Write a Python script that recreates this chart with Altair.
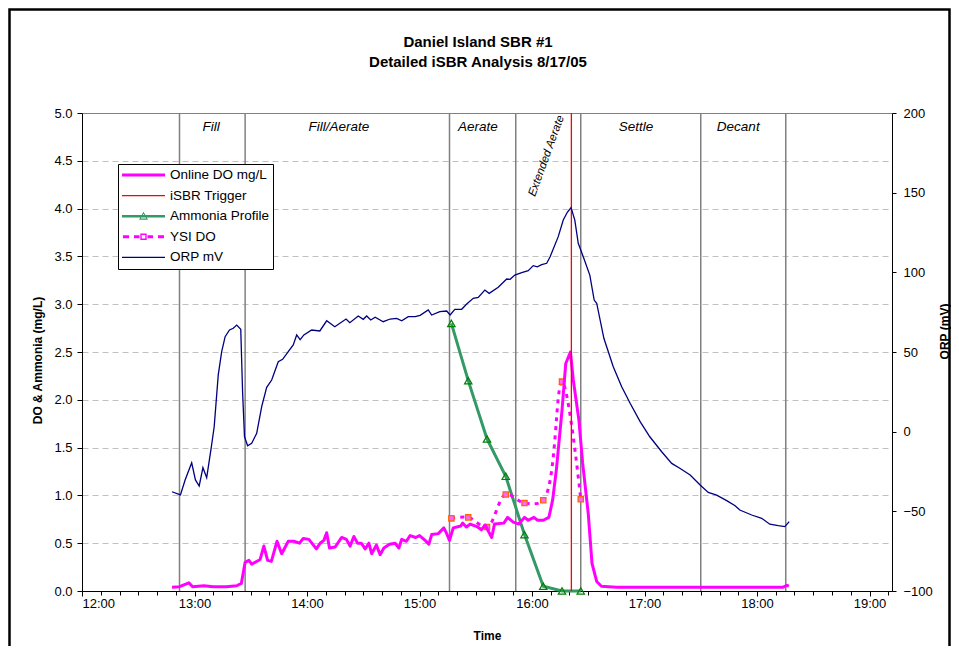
import altair as alt
import pandas as pd

# ---------------- data ----------------
DO_TIMES = ["12:48", "12:52", "12:57", "12:59", "13:05", "13:10", "13:17", "13:22:30", "13:25", "13:27",
            "13:29", "13:30:30", "13:35", "13:37", "13:39", "13:41", "13:44", "13:46:30", "13:50", "13:53",
            "13:56", "13:58", "14:01", "14:05", "14:07", "14:09", "14:10:30", "14:12", "14:15", "14:18:30",
            "14:21", "14:23", "14:25", "14:27", "14:29", "14:31", "14:33", "14:34:30", "14:37", "14:39",
            "14:41", "14:44", "14:47", "14:49", "14:50:30", "14:53", "14:55", "14:58", "15:00", "15:03",
            "15:05", "15:06:30", "15:10", "15:13", "15:14:30", "15:16", "15:18", "15:22", "15:23", "15:25",
            "15:27", "15:31", "15:33", "15:35", "15:38:30", "15:40", "15:45", "15:47", "15:50", "15:53",
            "15:56", "15:58", "16:01", "16:03", "16:06", "16:09", "16:11", "16:13", "16:16", "16:18",
            "16:20:30", "16:22", "16:25", "16:27", "16:30", "16:32", "16:34:30", "16:37", "16:45", "17:21",
            "18:14", "18:16", "18:17"]
DO_VALUES = [0.04, 0.045, 0.085, 0.045, 0.055, 0.045, 0.045, 0.055, 0.08, 0.30,
             0.32, 0.28, 0.33, 0.47, 0.32, 0.31, 0.52, 0.39, 0.52, 0.52,
             0.50, 0.55, 0.54, 0.44, 0.50, 0.53, 0.61, 0.45, 0.46, 0.56,
             0.54, 0.47, 0.57, 0.50, 0.50, 0.44, 0.50, 0.39, 0.48, 0.38,
             0.45, 0.49, 0.50, 0.45, 0.54, 0.52, 0.58, 0.56, 0.58, 0.53,
             0.49, 0.59, 0.60, 0.66, 0.60, 0.53, 0.66, 0.68, 0.71, 0.67,
             0.70, 0.67, 0.64, 0.69, 0.56, 0.70, 0.71, 0.77, 0.72, 0.70,
             0.77, 0.74, 0.77, 0.74, 0.74, 0.77, 0.95, 1.27, 1.89, 2.38,
             2.50, 2.21, 1.79, 1.34, 0.81, 0.29, 0.10, 0.05, 0.04, 0.04,
             0.04, 0.06, 0.05]

ORP_TIMES = ["12:48", "12:52:30", "12:55", "12:58:30", "13:00:30", "13:02:30", "13:04:30", "13:06:30", "13:09", "13:10:30",
             "13:12:40", "13:14:30", "13:16:20", "13:18:40", "13:20:40", "13:22:30", "13:24:40", "13:25:40", "13:26:40", "13:28:20",
             "13:30:30", "13:33:10", "13:35:50", "13:38:30", "13:41:10", "13:44:40", "13:47", "13:50", "13:52:40", "13:54:30",
             "13:56:20", "13:58:20", "14:02:30", "14:06:50", "14:10:30", "14:14:50", "14:20:50", "14:22:50", "14:27:20", "14:30",
             "14:31:50", "14:34", "14:36:20", "14:40:40", "14:44:20", "14:47:50", "14:50:30", "14:54", "14:57:40", "15:00:20",
             "15:04:40", "15:06:30", "15:10:50", "15:14:30", "15:16:20", "15:18:50", "15:22:30", "15:25:10", "15:28:40", "15:31:20",
             "15:34:50", "15:37:10", "15:42", "15:46:30", "15:48:20", "15:50:50", "15:54:30", "15:58", "16:00:40", "16:02:50",
             "16:05:10", "16:07:50", "16:09:40", "16:14", "16:16:40", "16:18:50", "16:20:50", "16:22:50", "16:24:40", "16:27:20",
             "16:30:50", "16:33:10", "16:34:30", "16:38:20", "16:43:20", "16:47:50", "16:52:20", "16:57:40", "17:02:50", "17:09:10",
             "17:14:30", "17:18:50", "17:24:20", "17:29:40", "17:34", "17:38:30", "17:43:50", "17:48:20", "17:50:50", "17:57:10",
             "18:02:30", "18:06:50", "18:11:20", "18:14:50", "18:17:10"]
ORP_VALUES = [-37.7, -39.7, -30.3, -19.5, -30.3, -34.1, -22.6, -28.9, -9.4, 3.1,
              35.6, 50.2, 59.6, 63.8, 64.9, 66.9, 64.2, 24.3, -3.2, -8.8,
              -7.3, -1.0, 15.7, 27.8, 32.4, 43.9, 45.4, 50.2, 54.4, 60.7,
              57.8, 60.7, 63.8, 63.2, 69.6, 65.9, 70.7, 68.4, 72.6, 70.5,
              72.6, 70.1, 71.8, 69.0, 70.7, 71.1, 69.6, 72.2, 72.2, 73.0,
              76.4, 73.2, 75.3, 75.7, 73.2, 76.8, 76.8, 80.1, 83.7, 84.3,
              88.9, 86.8, 90.6, 95.8, 95.6, 98.3, 99.8, 101.0, 104.2, 103.5,
              104.8, 105.7, 109.8, 122.4, 132.8, 137.7, 140.6, 132.8, 118.2, 109.8,
              98.3, 82.6, 80.6, 58.6, 40.8, 28.2, 17.8, 6.3, -3.2, -12.6,
              -19.9, -23.0, -27.2, -33.5, -38.1, -39.8, -43.3, -46.5, -49.2, -52.3,
              -54.4, -58.1, -59.0, -59.6, -56.5]

SAMPLE_TIMES = ["15:17", "15:26", "15:36", "15:46", "15:56", "16:06", "16:16", "16:26"]
AMMONIA_VALUES = [2.80, 2.20, 1.59, 1.20, 0.59, 0.05, 0.0, 0.0]
YSI_DO_VALUES = [0.76, 0.77, 0.67, 1.01, 0.92, 0.95, 2.19, 0.96]

PHASE_BOUNDARIES = ["12:52", "13:27", "15:16", "15:51:20", "16:26", "17:30", "18:15:20"]
TRIGGER_TIMES = ["16:21"]
PHASE_NAMES = ["Fill", "Fill/Aerate", "Aerate", "Settle", "Decant"]
PHASE_LABEL_TIMES = ["13:08:50", "14:17", "15:31:10", "16:55:30", "17:50"]
EXT_NAMES = ["Extended Aerate"]
EXT_TIMES = ["16:07:50"]

SERIES = ["Online DO mg/L", "iSBR Trigger", "Ammonia Profile", "YSI DO", "ORP mV"]

X_TICKS = list(range(12, 20))
MINOR_TICKS = [12 + k / 6 for k in range(1, 44) if k % 6 != 0]
DO_TICKS = [i * 0.5 for i in range(11)]
ORP_TICKS = [-100, -50, 0, 50, 100, 150, 200]

assert len(DO_TIMES) == len(DO_VALUES)
assert len(ORP_TIMES) == len(ORP_VALUES)


def to_hours(t):
    p = [int(s) for s in t.split(":")]
    return p[0] + p[1] / 60 + (p[2] if len(p) > 2 else 0) / 3600


do_df = pd.DataFrame({"h": [to_hours(t) for t in DO_TIMES], "v": DO_VALUES})
orp_df = pd.DataFrame({"h": [to_hours(t) for t in ORP_TIMES], "orp": ORP_VALUES})
samp_df = pd.DataFrame({"h": [to_hours(t) for t in SAMPLE_TIMES],
                        "nh3": AMMONIA_VALUES, "ysi": YSI_DO_VALUES})
phase_df = pd.DataFrame({"h": [to_hours(t) for t in PHASE_BOUNDARIES]})
trig_df = pd.DataFrame({"h": [to_hours(t) for t in TRIGGER_TIMES]})
label_df = pd.DataFrame({"h": [to_hours(t) for t in PHASE_LABEL_TIMES], "name": PHASE_NAMES})
ext_df = pd.DataFrame({"h": [to_hours(t) for t in EXT_TIMES], "name": EXT_NAMES})
minor_df = pd.DataFrame({"h": MINOR_TICKS})
legend_df = pd.DataFrame({"series": SERIES, "h": [12.0] * 5, "v": [0.0] * 5})
frame_df = pd.DataFrame({"k": [0]})

# ---------------- styling ----------------
FONT = "Liberation Sans"
X_SCALE = alt.Scale(domain=[12, 19.2], nice=False, zero=False)
Y_DO = alt.Scale(domain=[0, 5], nice=False, zero=False)
Y_ORP = alt.Scale(domain=[-100, 200], nice=False, zero=False)

SERIES_COLORS = ["#FF00FF", "#FF0000", "#339966", "#FF00FF", "#000080"]

# legend symbols as filled paths (unit = half of the 43px symbol width)
U = 21.5


def _r(x0, x1, hh):
    return f"M{x0/U:.4f},{-hh/U:.4f}H{x1/U:.4f}V{hh/U:.4f}H{x0/U:.4f}Z"


def _tri_ring():
    o = f"M0,{-4.5/U:.4f}L{4.5/U:.4f},{3.5/U:.4f}L{-4.5/U:.4f},{3.5/U:.4f}Z"
    i = f"M0,{-2.4/U:.4f}L{-2.8/U:.4f},{2.4/U:.4f}L{2.8/U:.4f},{2.4/U:.4f}Z"
    return o + i


def _sq_ring(s, t):
    o = f"M{-s/U:.4f},{-s/U:.4f}H{s/U:.4f}V{s/U:.4f}H{-s/U:.4f}Z"
    i = f"M{-t/U:.4f},{-t/U:.4f}V{t/U:.4f}H{t/U:.4f}V{-t/U:.4f}Z"
    return o + i


LEGEND_SHAPES = [
    _r(-21.5, 21.5, 1.5),
    _r(-21.5, 21.5, 0.6),
    _r(-21.5, 21.5, 1.25) + _tri_ring(),
    _r(-20.5, -14.5, 1.5) + _r(-9.5, -4.0, 1.5) + _sq_ring(3.2, 1.8) + _r(4.0, 9.5, 1.5) + _r(14.5, 20.5, 1.5),
    _r(-21.5, 21.5, 0.65),
]

LEGEND = alt.Legend(title=None, orient="none", legendX=36, legendY=51,
                    fillColor="white", strokeColor="black", padding=3,
                    rowPadding=4.6, clipHeight=16, symbolOffset=1, labelOffset=5,
                    labelFont=FONT, labelFontSize=13.5, labelColor="black",
                    symbolSize=1849, symbolStrokeWidth=0, symbolOpacity=1)


def xenc(axis=None):
    return alt.X("h:Q", scale=X_SCALE, axis=axis)


def yenc(field, axis=None):
    return alt.Y(f"{field}:Q", scale=Y_DO, axis=axis)


X_AXIS = alt.Axis(orient="bottom", values=X_TICKS, labelExpr="datum.value + ':00'", tickSize=5,
                  labelPadding=1, grid=False, title="Time", titleY=44,
                  titleBaseline="middle", titleFontWeight="bold")
DO_AXIS = alt.Axis(orient="left", values=DO_TICKS, format=".1f", tickSize=5, labelPadding=5,
                   grid=True, gridColor="#C0C0C0", gridDash=[6, 4], gridWidth=1,
                   gridOpacity={"condition": {"test": "datum.value <= 0 || datum.value >= 5", "value": 0}, "value": 1},
                   title="DO & Ammonia (mg/L)", titleX=-45, titleY=247, titleAngle=270,
                   titleAlign="center", titleBaseline="middle", titleFontWeight="bold")
ORP_AXIS = alt.Axis(orient="right", values=ORP_TICKS, format="d", tickSize=4, labelPadding=7,
                    grid=False, title="ORP (mV)", titleX=52, titleY=218, titleAngle=270,
                    titleAlign="center", titleBaseline="middle", titleFontWeight="bold")
MINOR_AXIS = alt.Axis(orient="bottom", values=MINOR_TICKS, labels=False, ticks=True, tickSize=4,
                      domain=False, grid=False, title=None)

# ---------------- layers ----------------
phase_rules = alt.Chart(phase_df).mark_rule(color="#808080", strokeWidth=1.5).encode(x=xenc())

ammonia_line = alt.Chart(samp_df).mark_line(color="#339966", strokeWidth=3).encode(
    x=xenc(), y=yenc("nh3"))
ammonia_pts = alt.Chart(samp_df).mark_point(shape="triangle-up", size=55, color="#008000",
                                             filled=False, strokeWidth=1.2, opacity=1).encode(
    x=xenc(), y=yenc("nh3"))

ysi_line = alt.Chart(samp_df).mark_line(color="#FF00FF", strokeWidth=3, strokeDash=[4, 5],
                                        interpolate="catmull-rom").encode(x=xenc(), y=yenc("ysi"))
ysi_pts = alt.Chart(samp_df).mark_point(shape="square", size=28, filled=True, fill="#FF66FF",
                                        stroke="#FF6600", strokeWidth=1.3, opacity=1).encode(
    x=xenc(), y=yenc("ysi"))

do_line = alt.Chart(do_df).mark_line(color="#FF00FF", strokeWidth=3, strokeJoin="round").encode(
    x=xenc(X_AXIS), y=yenc("v", DO_AXIS))

trigger = alt.Chart(trig_df).mark_rule(color="#FF0000", strokeWidth=1.3).encode(x=xenc())

phase_text = alt.Chart(label_df).mark_text(font=FONT, fontStyle="italic", fontSize=13.5,
                                           color="black", baseline="middle", align="center").encode(
    x=xenc(), y=alt.YDatum(4.85, scale=Y_DO, axis=None), text="name:N")
ext_text = alt.Chart(ext_df).mark_text(font=FONT, fontStyle="italic", fontSize=11.5, angle=290,
                                       color="black", baseline="middle", align="center").encode(
    x=xenc(), y=alt.YDatum(4.55, scale=Y_DO, axis=None), text="name:N")

legend_layer = alt.Chart(legend_df).transform_filter("false").mark_point(
    filled=True, opacity=1, size=1849, strokeWidth=0).encode(
    x=xenc(), y=yenc("v"),
    color=alt.Color("series:N", scale=alt.Scale(domain=SERIES, range=SERIES_COLORS), legend=LEGEND),
    shape=alt.Shape("series:N", scale=alt.Scale(domain=SERIES, range=LEGEND_SHAPES), legend=LEGEND),
)

orp_line = alt.Chart(orp_df).mark_line(color="#000080", strokeWidth=1.3).encode(
    x=xenc(), y=alt.Y("orp:Q", scale=Y_ORP, axis=ORP_AXIS))

minor = alt.Chart(minor_df).mark_rule(opacity=0).encode(x=xenc(MINOR_AXIS))

frame = alt.Chart(frame_df).mark_rect(fillOpacity=0, stroke="black", strokeWidth=2.5).encode(
    x=alt.value(-72.5), x2=alt.value(867.5), y=alt.value(-103.5), y2=alt.value(700))

chart = alt.layer(
    phase_rules, ammonia_line, ammonia_pts, ysi_line, ysi_pts, do_line,
    trigger, orp_line, phase_text, ext_text, legend_layer, minor, frame,
).resolve_scale(y="independent").resolve_axis(x="independent").properties(
    width=810, height=478,
    autosize=alt.AutoSizeParams(type="none"),
    padding={"left": 74, "top": 105, "right": 59, "bottom": 55},
    title=alt.TitleParams(text=["Daniel Island SBR #1", "Detailed iSBR Analysis 8/17/05"],
                          font=FONT, fontSize=15, fontWeight="bold", color="black",
                          anchor="middle", frame="group", dx=-9, offset=-62, lineHeight=20),
).configure_view(stroke="#808080", strokeWidth=1).configure_axis(
    labelFont=FONT, titleFont=FONT, labelFontSize=13, titleFontSize=12,
    labelColor="black", titleColor="black", domainColor="black", tickColor="black",
    domainWidth=1, tickWidth=1,
)

chart.save("out.html", embed_options={"renderer": "svg", "actions": False})
